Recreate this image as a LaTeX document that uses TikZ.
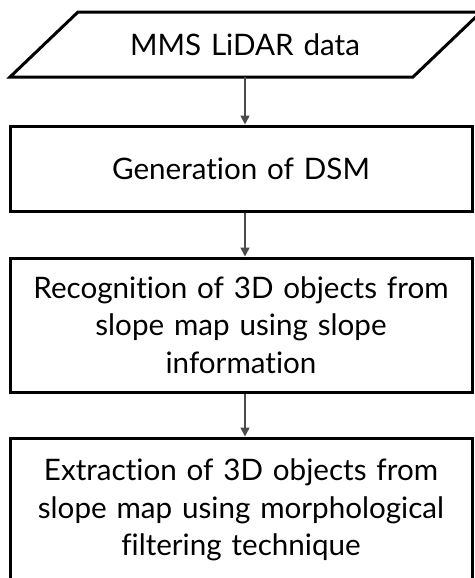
\documentclass[tikz,border=0pt]{standalone}
\usepackage{fontspec}
\setmainfont[WordSpace=1.3, Ligatures=NoCommon]{Lato}
\usetikzlibrary{arrows.meta, calc}
\tikzset{stepbox/.style = {draw, line width=1.5pt, minimum width=231pt, align=center,
    font=\fontsize{14.8}{18.75}\selectfont, inner sep=0pt}}
\tikzset{flow/.style = {draw=black!70, line width=0.8pt, -{Triangle[length=4.5pt, width=4.5pt]}}}

\begin{document}
\begin{tikzpicture}[x=0.5pt, y=-0.5pt]
    \useasboundingbox (0,0) rectangle (475,578);
    % input data (parallelogram)
    \draw[line width=1.5pt] (78,12) -- (481,12) -- (413,77) -- (10,77) -- cycle;
    \node[font=\fontsize{14.8}{18.75}\selectfont] (lidar) at (245,45) {MMS LiDAR data};
    \coordinate (lidarout) at (245,77);
    % processing steps
    \node[stepbox, minimum height=42.5pt] (dsm) at (241,168.5) {Generation of DSM};
    \node[stepbox, minimum height=67pt] (recog) at (241,325)
        {Recognition of 3D objects from\\slope map using slope\\information};
    \node[stepbox, minimum height=72pt] (extr) at (241,510)
        {Extraction of 3D objects from\\slope map using morphological\\filtering technique};
    % arrows
    \draw[flow] (lidarout) -- (lidarout |- dsm.north);
    \draw[flow] (dsm.south -| lidarout) -- (lidarout |- recog.north);
    \draw[flow] (recog.south -| lidarout) -- (lidarout |- extr.north);
\end{tikzpicture}
\end{document}
